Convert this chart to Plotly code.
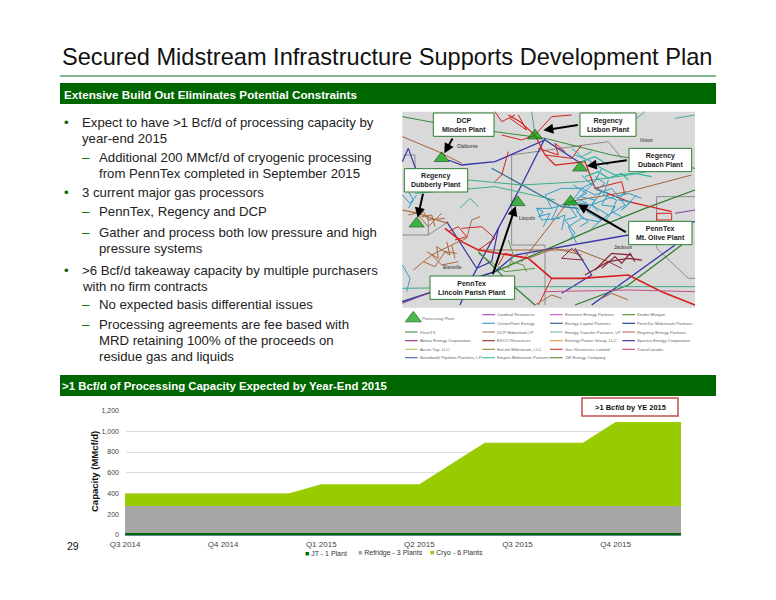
import plotly.graph_objects as go

W, H = 776, 600

# chart data, monthly from Q3 2014 to Q4 2015
months = list(range(18))
quarter_ticks = [0, 3, 6, 9, 12, 15]
quarter_labels = ["Q3 2014", "Q4 2014", "Q1 2015", "Q2 2015", "Q3 2015", "Q4 2015"]
jt = [20] * 18
refridge = [260] * 18
cryo = [120, 120, 120, 120, 120, 120, 210, 210, 210, 210, 410, 610, 610, 610, 610, 810, 810, 810]
y_ticks = [0, 200, 400, 600, 800, 1000, 1200]

series_names = ["JT - 1 Plant", "Refridge - 3 Plants", "Cryo - 6 Plants"]
series_colors = ["#006600", "#A6A6A6", "#99CC00"]

title = "Secured Midstream Infrastructure Supports Development Plan"
header_top = "Extensive Build Out Eliminates Potential Constraints"
header_bottom = ">1 Bcf/d of Processing Capacity Expected by Year-End 2015"

# text, level, y in pixels
bullets = [
    ("Expect to have >1 Bcf/d of processing capacity by", 0, 122),
    ("year-end 2015", 0.5, 138),
    ("Additional 200 MMcf/d of cryogenic processing", 1, 158),
    ("from PennTex completed in September 2015", 1.5, 173),
    ("3 current major gas processors", 0, 192),
    ("PennTex, Regency and DCP", 1, 212),
    ("Gather and process both low pressure and high", 1, 232),
    ("pressure systems", 1.5, 248),
    (">6 Bcf/d takeaway capacity by multiple purchasers", 0, 270),
    ("with no firm contracts", 0.5, 286),
    ("No expected basis differential issues", 1, 304),
    ("Processing agreements are fee based with", 1, 324),
    ("MRD retaining 100% of the proceeds on", 1.5, 340),
    ("residue gas and liquids", 1.5, 356),
]

# map drawing, in map axis units (3 units per pixel)
yellow_area = [(285, 185), (330, 185), (330, 225), (400, 205), (450, 215), (520, 215), (545, 255), (520, 290),
               (460, 340), (495, 350), (495, 390), (455, 385), (455, 340), (400, 310), (305, 290), (305, 265),
               (350, 255), (355, 232), (290, 225)]

parish_names = ["Claiborne", "Union", "Lincoln", "Bienville", "Jackson"]
parish_x = [217, 755, 395, 172, 683]
parish_y = [125, 105, 340, 487, 427]

map_lines = [
    # parish lines
    ("#8c8c8c", 1, [(22, 390), (100, 390), (100, 335)]),
    ("#8c8c8c", 1, [(25, 150), (60, 150), (60, 190)]),
    ("#8c8c8c", 1, [(350, 150), (640, 110), (680, 160)]),
    ("#8c8c8c", 1, [(350, 150), (350, 420), (450, 420), (450, 600)]),
    ("#8c8c8c", 1, [(785, 275), (900, 275)]),
    ("#8c8c8c", 1, [(785, 275), (785, 430), (880, 520), (900, 520)]),
    ("#8c8c8c", 1, [(100, 390), (160, 350)]),
    # long haul lines
    ("#3c8c3c", 1, [(22, 35), (130, 55), (300, 80), (450, 100), (650, 150), (900, 190)]),
    ("#2e7d32", 1.3, [(22, 590), (300, 500), (600, 370), (750, 310), (900, 255)]),
    ("#2e7d32", 1.3, [(540, 600), (700, 540), (860, 420)]),
    ("#2e7d32", 1.2, [(250, 440), (340, 530), (420, 600)]),
    ("#3636a8", 1.3, [(450, 100), (380, 240), (310, 370), (230, 520), (195, 600)]),
    ("#3636a8", 1.3, [(22, 590), (300, 500), (360, 450), (700, 390), (900, 350)]),
    ("#3636a8", 1.3, [(160, 165), (200, 180), (300, 170), (450, 105), (550, 170)]),
    ("#3636a8", 1.3, [(590, 600), (730, 500), (840, 420)]),
    ("#3636a8", 1.2, [(22, 170), (40, 130), (65, 200), (60, 235)]),
    ("#3636a8", 1.2, [(155, 350), (245, 490), (290, 470), (310, 370)]),
    ("#3636a8", 1.2, [(540, 430), (590, 510), (500, 565)]),
    ("#2c6e8f", 1.2, [(290, 190), (380, 240), (500, 305), (550, 310)]),
    ("#a0623c", 1, [(22, 95), (130, 140), (200, 175)]),
    ("#a0623c", 1, [(380, 470), (520, 290), (700, 260), (890, 210)]),
    ("#a0623c", 1, [(250, 435), (550, 435), (640, 470)]),
    ("#3cae8c", 1, [(120, 225), (220, 225), (380, 240), (560, 230), (700, 210), (890, 175)]),
    ("#3cae8c", 1, [(60, 265), (300, 245), (480, 285)]),
    ("#3cae8c", 1, [(195, 310), (225, 280), (250, 305)]),
    ("#3cae8c", 1, [(22, 550), (400, 545), (900, 545)]),
    ("#5aa0a0", 1, [(410, 20), (420, 90)]),
    ("#5aa0a0", 1, [(700, 60), (750, 20)]),
    ("#5aa0a0", 1, [(840, 40), (900, 30)]),
    # red systems
    ("#d62020", 1.2, [(340, 30), (375, 50), (420, 90), (450, 150), (480, 180), (570, 170), (600, 250), (700, 290), (830, 320)]),
    ("#d62020", 1, [(320, 90), (380, 105), (420, 90), (470, 35), (530, 30)]),
    ("#d62020", 1, [(300, 20), (320, 50), (360, 30)]),
    ("#d62020", 1, [(345, 40), (395, 75), (370, 30)]),
    ("#d62020", 1, [(340, 140), (320, 210), (300, 230)]),
    ("#d62020", 1, [(450, 150), (530, 160), (560, 120)]),
    ("#d62020", 1, [(430, 130), (490, 150), (480, 115), (510, 140)]),
    ("#d62020", 1, [(600, 250), (680, 230), (690, 270)]),
    ("#d62020", 1, [(785, 325), (830, 325), (830, 345), (785, 345), (785, 325)]),
    ("#d62020", 1.6, [(150, 370), (200, 410), (250, 435), (400, 460), (470, 520), (560, 520), (700, 510), (800, 560), (900, 600)]),
    ("#d62020", 1, [(200, 370), (260, 365), (300, 400), (250, 435)]),
    ("#d62020", 1, [(160, 380), (190, 365), (215, 395), (180, 405)]),
    ("#d62020", 1, [(470, 520), (430, 600)]),
    ("#d62020", 1, [(400, 460), (330, 445), (310, 480)]),
    # blue gathering system
    ("#2f9fc4", 1, [(540, 150), (580, 165), (620, 190), (600, 230), (560, 250), (530, 290)]),
    ("#2f9fc4", 1, [(530, 290), (470, 310), (425, 310), (440, 345), (495, 340)]),
    ("#2f9fc4", 1, [(530, 290), (590, 300), (640, 280), (700, 265), (740, 280)]),
    ("#2f9fc4", 1, [(560, 250), (600, 270), (650, 250), (690, 300), (640, 330), (590, 300)]),
    ("#2f9fc4", 1, [(530, 290), (560, 340), (520, 365), (545, 415)]),
    ("#2f9fc4", 1, [(560, 340), (610, 350), (640, 330)]),
    ("#2f9fc4", 1, [(470, 310), (450, 270), (500, 250), (560, 250)]),
    ("#2f9fc4", 1, [(580, 230), (620, 260), (590, 300), (610, 320)]),
    ("#2f9fc4", 1, [(560, 210), (590, 240), (555, 275), (600, 285), (575, 320), (620, 345), (590, 370)]),
    ("#2f9fc4", 1, [(640, 225), (625, 270), (665, 285), (650, 320), (680, 335)]),
    ("#2f9fc4", 1, [(490, 300), (470, 345), (510, 330), (500, 375)]),
    ("#2f9fc4", 1, [(535, 240), (575, 265), (545, 280), (575, 295), (545, 320), (580, 350), (555, 365)]),
    ("#2f9fc4", 1, [(600, 215), (630, 235), (605, 255), (640, 265), (620, 300), (660, 305), (630, 350)]),
    ("#2f9fc4", 1, [(690, 260), (670, 285), (710, 290), (680, 315), (725, 270)]),
    ("#2f9fc4", 1, [(425, 310), (445, 320), (430, 335), (465, 325), (445, 365)]),
    ("#2f9fc4", 1, [(520, 300), (545, 335), (510, 345), (540, 385), (525, 400)]),
    ("#2f9fc4", 1, [(22, 270), (45, 295), (65, 270)]),
    ("#2f9fc4", 1, [(35, 250), (55, 285), (40, 310)]),
    ("#2f9fc4", 1, [(22, 480), (45, 520), (35, 560)]),
    ("#2cb89a", 1.2, [(620, 190), (660, 210), (720, 205), (770, 215)]),
    ("#2cb89a", 1.2, [(560, 170), (600, 155), (640, 180)]),
    ("#2cb89a", 1.2, [(570, 215), (610, 200), (640, 220), (680, 205), (700, 225)]),
    ("#2cb89a", 1, [(530, 130), (560, 155), (590, 140)]),
    # brown and maroon systems
    ("#a8683c", 1.2, [(22, 315), (70, 325), (125, 345), (160, 355)]),
    ("#a8683c", 1, [(60, 320), (100, 365), (140, 325)]),
    ("#a8683c", 1, [(80, 335), (110, 330), (120, 365)]),
    ("#a8683c", 1, [(40, 330), (85, 320), (100, 345), (150, 340)]),
    ("#a8683c", 1, [(55, 495), (110, 450), (170, 420), (215, 400)]),
    ("#a8683c", 1, [(110, 450), (140, 480), (190, 470)]),
    ("#a8683c", 1, [(85, 470), (120, 485), (150, 440), (185, 445)]),
    ("#a8683c", 1, [(95, 440), (130, 460), (125, 425), (165, 450), (155, 410)]),
    ("#a8683c", 1, [(170, 420), (180, 460)]),
    ("#a8683c", 1, [(215, 400), (230, 345), (255, 335)]),
    ("#a8683c", 1, [(400, 460), (480, 430), (560, 450)]),
    ("#a8683c", 1, [(420, 600), (470, 570), (500, 580)]),
    ("#a8683c", 1, [(620, 580), (650, 565), (700, 585)]),
    ("#8c2a3c", 1, [(500, 460), (530, 430), (565, 465), (500, 460)]),
    ("#8c2a3c", 1.3, [(570, 510), (640, 470), (700, 460), (740, 465)]),
    ("#8c2a3c", 1.3, [(600, 495), (650, 445), (710, 450)]),
    ("#8c2a3c", 1.2, [(620, 490), (660, 455), (680, 475), (705, 445), (720, 470)]),
    ("#8c2a3c", 1, [(640, 470), (680, 490)]),
    ("#5a9a3c", 1, [(340, 405), (355, 450), (340, 490)]),
    ("#5a9a3c", 1, [(250, 445), (330, 500), (420, 490)]),
    ("#5a9a3c", 1, [(350, 470), (385, 480), (395, 500)]),
    ("#c8508c", 1, [(450, 560), (700, 555), (900, 560)]),
    ("#8a3ca0", 1, [(840, 325), (900, 315)]),
    ("#8a3ca0", 1, [(22, 595), (110, 560)]),
]

plant_x = [140, 420, 555, 65, 368, 527]
plant_y = [160, 92, 188, 356, 292, 290]

# text, box centre x, box centre y, half width, half height
plant_boxes = [
    ("DCP<br>Minden Plant", 206, 59, 91, 35),
    ("Regency<br>Lisbon Plant", 639, 59, 84, 35),
    ("Regency<br>Dubach Plant", 796, 165, 94, 35),
    ("Regency<br>Dubberly Plant", 123, 226, 95, 35),
    ("PennTex<br>Lincoln Parish Plant", 232, 548, 127, 35),
    ("PennTex<br>Mt. Olive Plant", 796, 384, 95, 35),
]

# arrow tail x, tail y, head x, head y
plant_arrows = [
    (175, 96, 148, 145),
    (553, 59, 445, 76),
    (700, 165, 575, 183),
    (85, 262, 68, 338),
    (292, 512, 362, 303),
    (697, 384, 548, 298),
]

key_names = ["PennTX", "Atmos Energy Corporation", "Azure Tap, LLC", "Boardwalk Pipeline Partners, LP",
             "Cardinal Resources", "CenterPoint Energy", "DCP Midstream LP", "EXCO Resources",
             "EnLink Midstream, LLC", "Empire Midstream Partners",
             "Enervest Energy Partners", "Energy Capital Partners", "Energy Transfer Partners, LP",
             "Entergy Power Group, LLC", "Gas Resources Limited", "JW Energy Company",
             "Kinder Morgan", "PennTex Midstream Partners", "Regency Energy Partners",
             "Spectra Energy Corporation", "TransCanada"]
key_colors = ["#5a9a5a", "#a03c96", "#b4cc64", "#5a6ab4",
              "#a050b4", "#46a0c0", "#b48c6e", "#a03c3c", "#a08c50", "#46c0a0",
              "#d060d0", "#3c64a0", "#8cc0a0", "#e0a050", "#d05040", "#6a8c3c",
              "#5a9a3c", "#1e4a8c", "#e07070", "#3c3ca0", "#d05080"]
key_x = [30, 30, 30, 30, 262, 262, 262, 262, 262, 262, 465, 465, 465, 465, 465, 465, 682, 682, 682, 682, 682]
key_y = [111, 137, 163, 188, 59, 85, 111, 137, 163, 188, 59, 85, 111, 137, 163, 188, 59, 85, 111, 137, 163]


def px_x(x):
    return x / W


def px_y(y):
    return 1 - y / H


fig = go.Figure()

# stacked capacity chart
for name, vals, color in zip(series_names, [jt, refridge, cryo], series_colors):
    fig.add_trace(go.Scatter(x=months, y=vals, name=name, stackgroup="one", mode="none", fillcolor=color,
                             showlegend=False))

# map lines
for color, width, pts in map_lines:
    fig.add_trace(go.Scatter(x=[p[0] for p in pts], y=[p[1] for p in pts], mode="lines", xaxis="x2", yaxis="y2",
                             line=dict(color=color, width=width), showlegend=False, hoverinfo="skip"))

for name, px, py in zip(parish_names, parish_x, parish_y):
    fig.add_annotation(x=px, y=py, xref="x2", yref="y2", text=f"<b>{name}</b>", showarrow=False,
                       font=dict(size=4.5, color="#555555"))

# map key
for name, color, kx, ky in zip(key_names, key_colors, key_x, key_y):
    fig.add_trace(go.Scatter(x=[kx, kx + 38], y=[570 + ky, 570 + ky], mode="lines", xaxis="x2", yaxis="y2",
                             line=dict(color=color, width=1.2), showlegend=False, hoverinfo="skip"))
    fig.add_annotation(x=kx + 39, y=570 + ky, xref="x2", yref="y2", text=name, showarrow=False, xanchor="left",
                       font=dict(size=4.3, color="#666666"))
fig.add_annotation(x=76, y=641, xref="x2", yref="y2", text="Processing Plant", showarrow=False, xanchor="left",
                   font=dict(size=4.3, color="#666666"))

# plants
fig.add_trace(go.Scatter(x=plant_x + [55], y=plant_y + [640], mode="markers", xaxis="x2", yaxis="y2",
                         marker=dict(symbol="triangle-up", size=[13] * 6 + [14], color="#00A000",
                                     line=dict(color="#004d00", width=1)),
                         showlegend=False, hoverinfo="skip"))

shapes = [
    dict(type="path", xref="x2", yref="y2", layer="below", line_width=0, fillcolor="#FFF27A",
         path="M " + " L ".join(f"{x},{y}" for x, y in yellow_area) + " Z"),
    dict(type="rect", xref="x2", yref="y2", layer="below", x0=22, x1=900, y0=20, y1=608, line_width=0, fillcolor="#D9D9D9"),
    # title rule and green headers
    dict(type="line", xref="paper", yref="paper", x0=px_x(60), x1=px_x(716), y0=px_y(76), y1=px_y(76),
         line=dict(color="#5f9e6e", width=1.5)),
    dict(type="rect", xref="paper", yref="paper", x0=px_x(60), x1=px_x(716), y0=px_y(104), y1=px_y(83),
         line_width=0, fillcolor="#006600"),
    dict(type="rect", xref="paper", yref="paper", x0=px_x(60), x1=px_x(716), y0=px_y(396), y1=px_y(375),
         line_width=0, fillcolor="#006600"),
    # callout
    dict(type="rect", xref="paper", yref="paper", x0=px_x(582), x1=px_x(678), y0=px_y(416), y1=px_y(398),
         line=dict(color="#C0504D", width=1.5), fillcolor="#FFFFFF"),
]

for text, bx, by, hw, hh in plant_boxes:
    shapes.append(dict(type="rect", xref="x2", yref="y2", x0=bx - hw, x1=bx + hw, y0=by - hh, y1=by + hh,
                       line=dict(color="#2e7d32", width=1), fillcolor="#FFFFFF"))
    fig.add_annotation(x=bx, y=by, xref="x2", yref="y2", text=f"<b>{text}</b>", showarrow=False,
                       font=dict(size=7, color="#222222"), align="center")

for x0, y0, x1, y1 in plant_arrows:
    fig.add_annotation(x=x1, y=y1, ax=x0, ay=y0, xref="x2", yref="y2", axref="x2", ayref="y2", text="",
                       showarrow=True, arrowhead=2, arrowsize=1, arrowwidth=2, arrowcolor="#000000")


def label(x, y, text, size, color="#111111", xanchor="left", **kw):
    fig.add_annotation(x=px_x(x), y=px_y(y), xref="paper", yref="paper", text=text, showarrow=False,
                       xanchor=xanchor, yanchor="middle", font=dict(size=size, color=color), **kw)


label(60, 57, title, 23.6)
label(62, 94, f"<b>{header_top}</b>", 11.7, "#FFFFFF")
label(60, 386, f"<b>{header_bottom}</b>", 11.4, "#FFFFFF")
label(630, 407, "<b>&gt;1 Bcf/d by YE 2015</b>", 7.5, xanchor="center")
label(65, 546, "29", 10.5)
label(94, 472, "<b>Capacity (MMcf/d)</b>", 9.5, textangle=-90, xanchor="center")

# chart legend, small squares like the original
for name, color, lx in zip(series_names, series_colors, [303, 356, 428]):
    label(lx, 553, f'<span style="color:{color}">■</span> {name}', 7, "#333333")

for text, level, y in bullets:
    x = 97 if level >= 1 else 80
    label(x, y, text, 13.2, "#222222")
    if level == 0:
        label(62, y, "•", 13.2, "#006600")
    elif level == 1:
        label(80, y, "–", 13.2, "#006600")

fig.update_layout(
    width=W, height=H, margin=dict(l=0, r=0, t=0, b=0), autosize=False,
    paper_bgcolor="#FFFFFF", plot_bgcolor="rgba(0,0,0,0)",
    font=dict(family="Liberation Sans, Arial, sans-serif"),
    shapes=shapes,
    showlegend=False,
    xaxis=dict(domain=[px_x(125), px_x(681)], range=[0, 17], tickvals=quarter_ticks, ticktext=quarter_labels,
               showgrid=False, ticks="", tickfont=dict(size=8, color="#444444"), showline=True, linecolor="#5f8f9f",
               linewidth=1, anchor="y", automargin=False, ticklabelstandoff=1),
    yaxis=dict(domain=[px_y(535), px_y(410.5)], range=[0, 1200], tickvals=y_ticks, tickformat=",",
               gridcolor="#DDDDDD", gridwidth=1, zeroline=False, ticks="", tickfont=dict(size=7, color="#444444"),
               anchor="x", automargin=False, ticklabelstandoff=5),
    xaxis2=dict(domain=[px_x(395), px_x(725)], range=[0, 990], visible=False, anchor="y2", automargin=False),
    yaxis2=dict(domain=[px_y(370), px_y(105)], range=[795, 0], visible=False, anchor="x2", automargin=False),
)

fig.write_html("out.html", post_script="document.body.style.margin='0';", config={"displayModeBar": False})
